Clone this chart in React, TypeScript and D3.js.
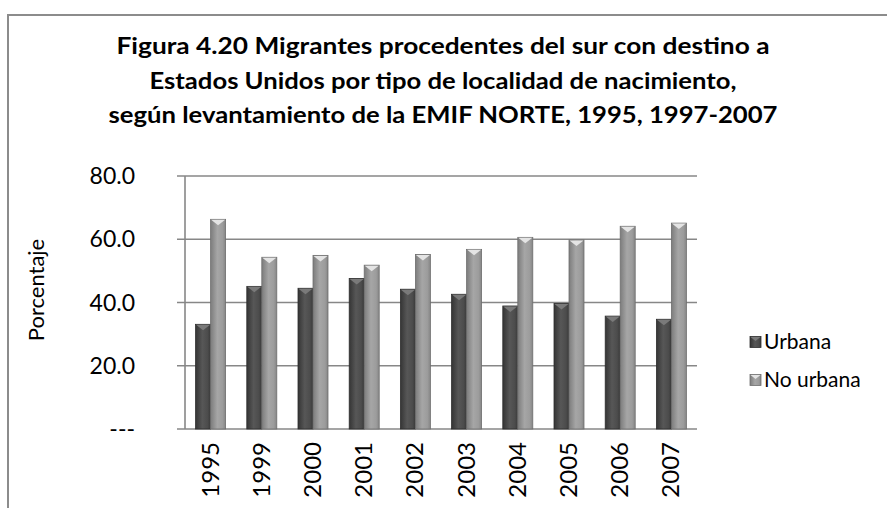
import * as d3 from "d3";

// data
const years = ["1995", "1999", "2000", "2001", "2002", "2003", "2004", "2005", "2006", "2007"];
const urbana = [33.1, 45.1, 44.5, 47.6, 44.2, 42.6, 38.9, 39.7, 35.7, 34.7];
const noUrbana = [66.3, 54.3, 54.9, 51.8, 55.2, 56.8, 60.6, 59.8, 64.1, 65.1];
const seriesNames = ["Urbana", "No urbana"];
const yTicks = [0, 20, 40, 60, 80];
const titleLines = [
  "Figura 4.20 Migrantes procedentes del sur con destino a",
  "Estados Unidos por tipo de localidad de nacimiento,",
  "según levantamiento de la EMIF NORTE, 1995, 1997-2007",
];
const yTitle = "Porcentaje";

const W = 887;
const H = 508;
const plot = { left: 185, right: 697, top: 176, bottom: 429 };
const font = "Lato, 'Open Sans', sans-serif";
const gridColor = "#878787";
// widths of the title lines in the reference (its font is wider than Lato)
const titleWidths = [653, 587, 669];

const fills = ["url(#gU)", "url(#gN)"];
const capFills = ["#7a7a7a", "#e4e4e4"];

export default function App() {
  const x = d3
    .scaleBand<string>()
    .domain(years)
    .range([plot.left, plot.right])
    .paddingInner(0.414)
    .paddingOuter(0.207);
  const xs = d3.scaleBand<string>().domain(seriesNames).range([0, x.bandwidth()]);
  const y = d3.scaleLinear().domain([0, 80]).range([plot.bottom, plot.top]);
  const fmt = (d: number) => (d === 0 ? "---" : d3.format(".1f")(d));
  const series = [urbana, noUrbana];

  return (
    <svg
      width={W}
      height={H}
      style={{ position: "absolute", left: 0, top: 0, background: "#fff" }}
    >
      <defs>
        <linearGradient id="gU" x1="0" x2="1" y1="0" y2="0">
          <stop offset="0" stopColor="#353535" />
          <stop offset="0.45" stopColor="#575757" />
          <stop offset="0.8" stopColor="#4c4c4c" />
          <stop offset="1" stopColor="#3a3a3a" />
        </linearGradient>
        <linearGradient id="gN" x1="0" x2="1" y1="0" y2="0">
          <stop offset="0" stopColor="#7c7c7c" />
          <stop offset="0.45" stopColor="#a6a6a6" />
          <stop offset="0.8" stopColor="#9c9c9c" />
          <stop offset="1" stopColor="#858585" />
        </linearGradient>
      </defs>

      {/* chart border (cropped on the right and bottom) */}
      <rect x={8} y={15} width={W} height={H} fill="none" stroke="#8c8c8c" strokeWidth={2} />

      {titleLines.map((t, i) => (
        <text
          key={i}
          x={443}
          y={54 + i * 34.5}
          textAnchor="middle"
          textLength={titleWidths[i]}
          lengthAdjust="spacingAndGlyphs"
          fontFamily={font}
          fontWeight="bold"
          fontSize={23}
          fill="#000"
        >
          {t}
        </text>
      ))}

      {/* gridlines + y ticks */}
      {yTicks.map((t) => (
        <g key={t}>
          <line
            x1={plot.left - 8}
            x2={plot.right}
            y1={y(t)}
            y2={y(t)}
            stroke={gridColor}
            strokeWidth={1.6}
          />
          <text
            x={135}
            y={y(t)}
            dy="0.35em"
            textAnchor="end"
            fontFamily={font}
            fontSize={23}
            fill="#000"
          >
            {fmt(t)}
          </text>
        </g>
      ))}
      <line
        x1={plot.left}
        x2={plot.left}
        y1={plot.top}
        y2={plot.bottom}
        stroke={gridColor}
        strokeWidth={1.6}
      />

      <text
        transform={`translate(44,290) rotate(-90)`}
        textAnchor="middle"
        fontFamily={font}
        fontSize={22}
        fill="#000"
      >
        {yTitle}
      </text>

      {/* bars */}
      {years.map((yr, i) => (
        <g key={yr} transform={`translate(${x(yr)},0)`}>
          {series.map((s, k) => {
            const bx = xs(seriesNames[k]) as number;
            const bw = xs.bandwidth();
            const top = y(s[i]);
            return (
              <g key={k}>
                <rect
                  x={bx}
                  y={top}
                  width={bw}
                  height={y(0) - top}
                  fill={fills[k]}
                  stroke={k === 0 ? "#2e2e2e" : "#6f6f6f"}
                  strokeWidth={0.8}
                />
                <path
                  d={`M${bx + 0.5},${top + 0.5}L${bx + bw - 0.5},${top + 0.5}L${bx + bw / 2},${top + 6}Z`}
                  fill={capFills[k]}
                />
              </g>
            );
          })}
        </g>
      ))}

      {/* x labels */}
      {years.map((yr) => (
        <text
          key={yr}
          transform={`translate(${(x(yr) as number) + x.bandwidth() / 2 + 8},${plot.bottom + 13}) rotate(-90)`}
          textAnchor="end"
          fontFamily={font}
          fontSize={24}
          fill="#000"
        >
          {yr}
        </text>
      ))}

      {/* legend */}
      {seriesNames.map((n, k) => {
        const ly = 342 + k * 38;
        return (
          <g key={n}>
            <rect
              x={750}
              y={ly - 5.5}
              width={11}
              height={11}
              fill={fills[k]}
              stroke={k === 0 ? "#2e2e2e" : "#6f6f6f"}
              strokeWidth={0.8}
            />
            <path d={`M750.5,${ly - 5}L760.5,${ly - 5}L755.5,${ly - 1}Z`} fill={capFills[k]} />
            <text x={764} y={ly} dy="0.35em" fontFamily={font} fontSize={21} fill="#000">
              {n}
            </text>
          </g>
        );
      })}
    </svg>
  );
}
